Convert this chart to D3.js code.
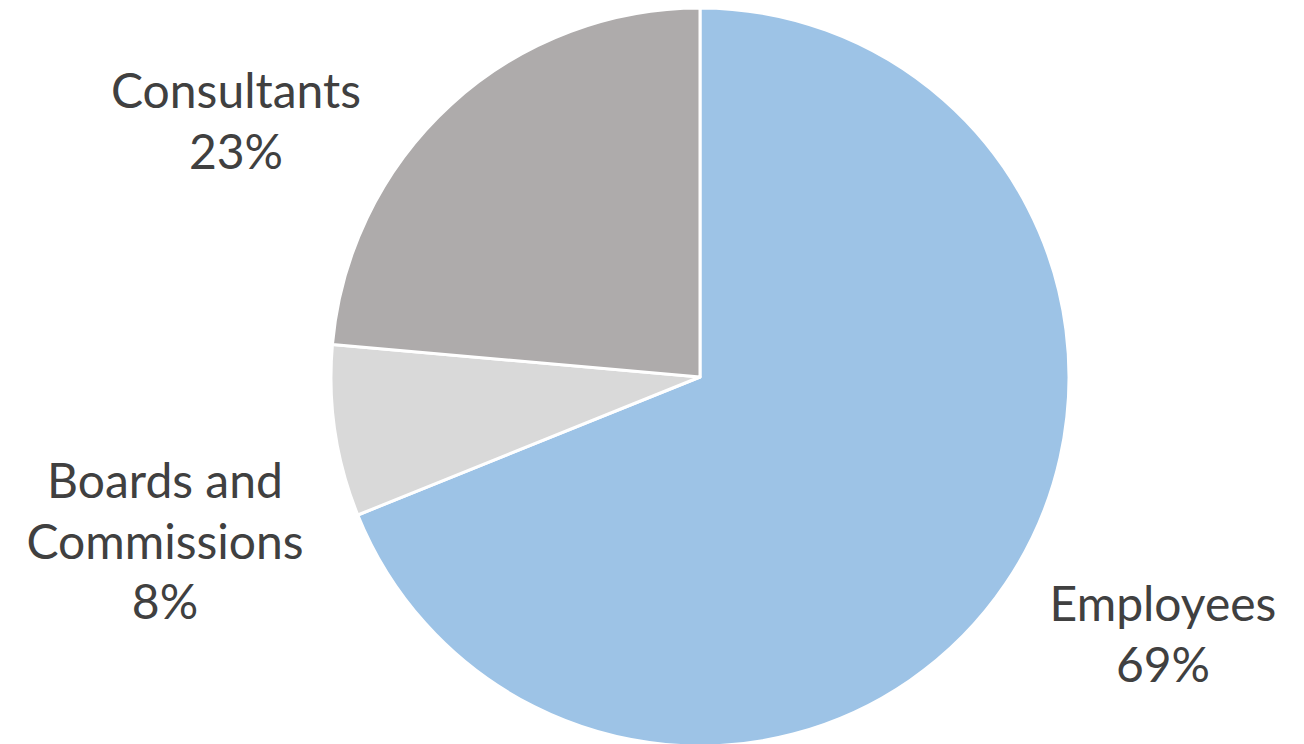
<!DOCTYPE html>
<html>
<head>
<meta charset="utf-8">
<script src="https://cdn.jsdelivr.net/npm/d3@7"></script>
<style>
  body { margin: 0; background: #fff; }
  text { font-family: "Lato", "Open Sans", sans-serif; fill: #404040; }
</style>
</head>
<body>
<div id="chart"></div>
<script>
const width = 1304, height = 744;

// slice data, clockwise from 12 o'clock
const categories = ["Employees", "Boards and Commissions", "Consultants"];
const shares = [68.9, 7.5, 23.6];
const colors = ["#9dc3e6", "#d9d9d9", "#aeabab"];
// label lines and where they sit (centre x, first baseline)
const labelLines = [["Employees", "69%"], ["Boards and", "Commissions", "8%"], ["Consultants", "23%"]];
const labelPos = [[1163, 621], [165, 498], [236, 108]];

const cx = 700, cy = 377, radius = 369;

const svg = d3.select("#chart")
    .append("svg")
    .attr("width", width)
    .attr("height", height);

const data = categories.map((c, i) => ({name: c, value: shares[i], color: colors[i]}));

const pie = d3.pie()
    .sort(null)
    .value(d => d.value);

const arc = d3.arc()
    .innerRadius(0)
    .outerRadius(radius);

const g = svg.append("g")
    .attr("transform", `translate(${cx},${cy})`);

g.selectAll("path")
    .data(pie(data))
    .enter()
    .append("path")
    .attr("d", arc)
    .attr("fill", d => d.data.color)
    .attr("stroke", "#fff")
    .attr("stroke-width", 3)
    .attr("stroke-linejoin", "round");

// labels
labelLines.forEach((lines, i) => {
    const t = svg.append("text")
        .attr("text-anchor", "middle")
        .attr("font-size", 48);
    lines.forEach((line, j) => {
        t.append("tspan")
            .attr("x", labelPos[i][0])
            .attr("y", labelPos[i][1] + j * 60.5)
            .text(line);
    });
});
</script>
</body>
</html>
